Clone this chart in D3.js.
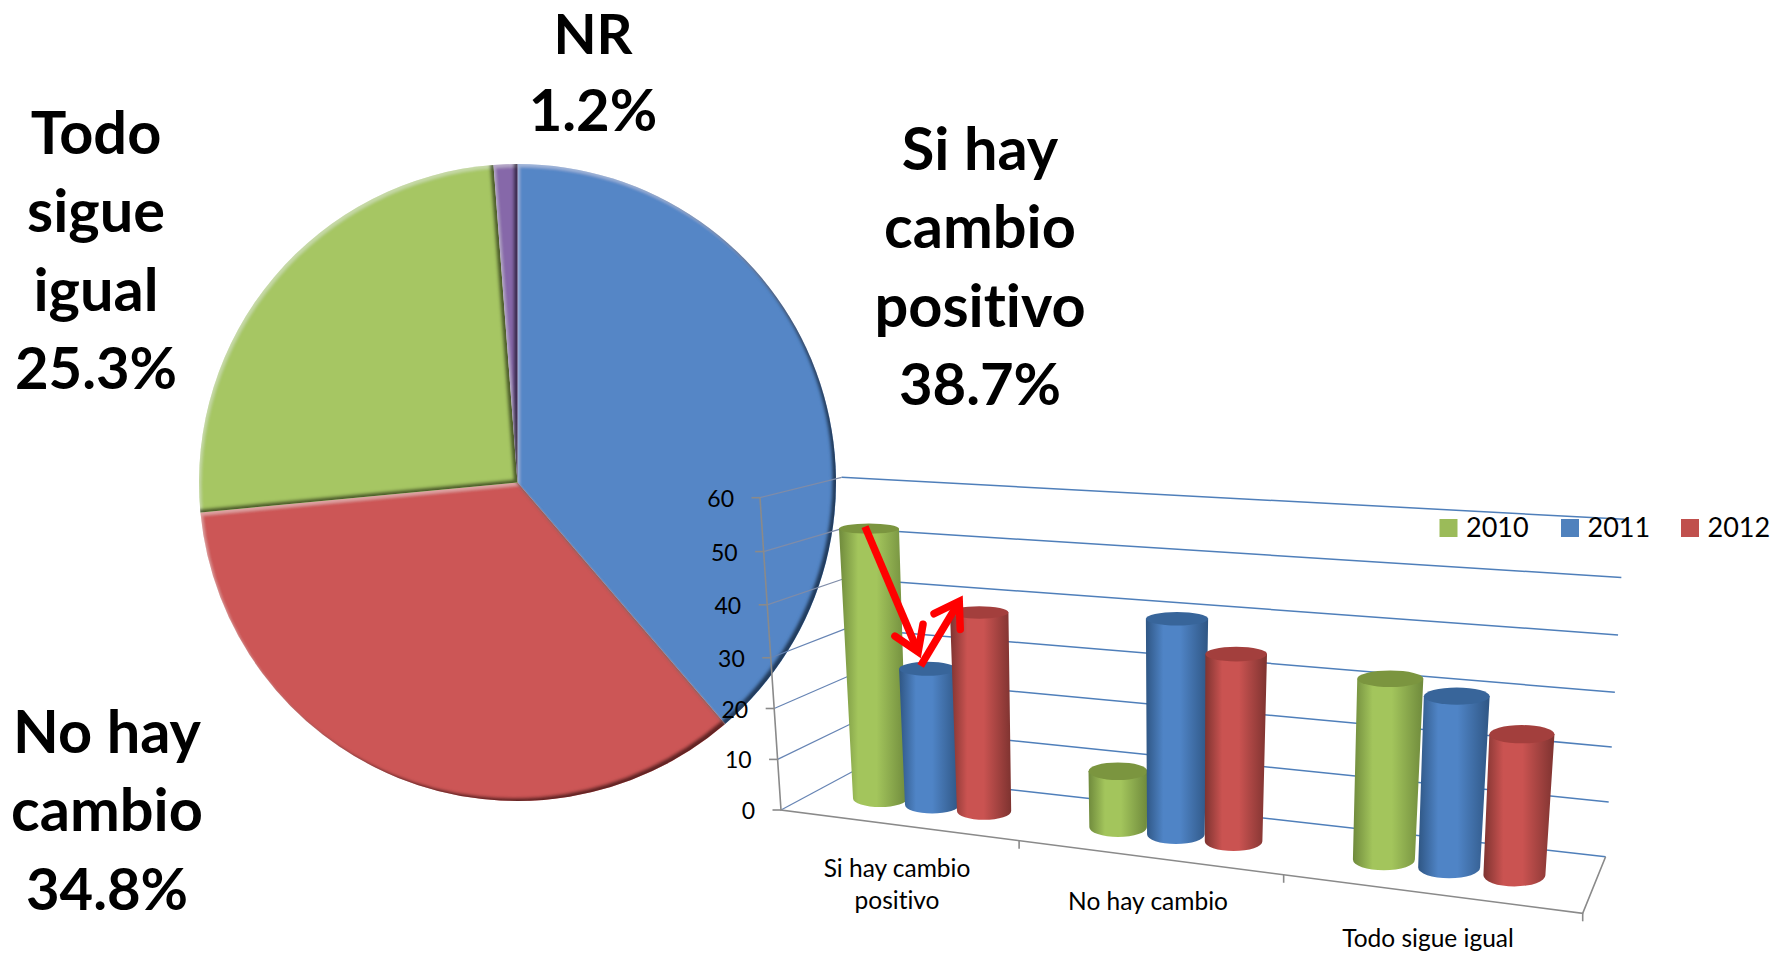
<!DOCTYPE html>
<html>
<head>
<meta charset="utf-8">
<script src="https://cdn.jsdelivr.net/npm/d3@7"></script>
<style>
  body { margin: 0; background: #fff; }
  svg { display: block; }
  text { font-family: Lato, "Open Sans", sans-serif; fill: #000; font-variant-ligatures: none; }
</style>
</head>
<body>
<svg id="chart" width="1777" height="953"></svg>
<script>
// pie
const pieNames = ['Si hay cambio positivo', 'No hay cambio', 'Todo sigue igual', 'NR']
const pieValues = [38.7, 34.8, 25.3, 1.2]
const pieColors = ['#5586c6', '#cc5756', '#a6c663', '#8668a9']

// cylinders
const categories = [['Si hay cambio', 'positivo'], ['No hay cambio'], ['Todo sigue igual']]
const years = ['2010', '2011', '2012']
const values2010 = [53, 10.8, 33]
const values2011 = [27, 40.5, 31]
const values2012 = [38.7, 35, 25.3]
const yTicks = [0, 10, 20, 30, 40, 50, 60]

const seriesColors = {
  '2010': { swatch: '#9bbb59', light: '#a3c55c', dark: '#6f8a3c', top: '#7b953f' },
  '2011': { swatch: '#4f81bd', light: '#4f84c6', dark: '#2f5684', top: '#38659a' },
  '2012': { swatch: '#c0504d', light: '#ca5351', dark: '#7e3330', top: '#a33f3d' }
}

const svg = d3.select('#chart')
const defs = svg.append('defs')

// ---- pie with a bevelled edge ----
const bevel = defs.append('filter').attr('id', 'bevel')
  .attr('filterUnits', 'userSpaceOnUse')
  .attr('x', -400).attr('y', -400).attr('width', 800).attr('height', 800)
bevel.append('feGaussianBlur').attr('in', 'SourceAlpha').attr('stdDeviation', 1.5).attr('result', 'blur')
bevel.append('feOffset').attr('in', 'blur').attr('dx', -4.5).attr('dy', -3.5).attr('result', 'offDark')
bevel.append('feComposite').attr('in', 'SourceAlpha').attr('in2', 'offDark').attr('operator', 'out').attr('result', 'edgeDark')
bevel.append('feFlood').attr('flood-color', '#000').attr('flood-opacity', 0.8)
bevel.append('feComposite').attr('in2', 'edgeDark').attr('operator', 'in').attr('result', 'shade')
bevel.append('feOffset').attr('in', 'blur').attr('dx', 2).attr('dy', 3).attr('result', 'offLight')
bevel.append('feComposite').attr('in', 'SourceAlpha').attr('in2', 'offLight').attr('operator', 'out').attr('result', 'edgeLight')
bevel.append('feFlood').attr('flood-color', '#fff').attr('flood-opacity', 0.3)
bevel.append('feComposite').attr('in2', 'edgeLight').attr('operator', 'in').attr('result', 'shine')
const bevelMerge = bevel.append('feMerge')
bevelMerge.append('feMergeNode').attr('in', 'SourceGraphic')
bevelMerge.append('feMergeNode').attr('in', 'shine')
bevelMerge.append('feMergeNode').attr('in', 'shade')

const pie = d3.pie().sort(null)
const arc = d3.arc().innerRadius(0).outerRadius(318.5)
svg.append('g').attr('transform', 'translate(517.5,482.5)')
  .selectAll('path')
  .data(pie(pieValues))
  .enter()
  .append('path')
  .attr('d', arc)
  .attr('fill', (d, i) => pieColors[i])
  .attr('filter', 'url(#bevel)')

// big labels round the pie
const bigLabels = [
  { lines: ['NR', '1.2%'], sizes: [56, 58], x: 593, y: 54, step: 77 },
  { lines: ['Si hay', 'cambio', 'positivo', '38.7%'], x: 980, y: 170 },
  { lines: ['Todo', 'sigue', 'igual', '25.3%'], x: 96, y: 154 },
  { lines: ['No hay', 'cambio', '34.8%'], x: 107, y: 753 }
]
bigLabels.forEach(l => {
  l.lines.forEach((line, i) => {
    svg.append('text')
      .attr('x', l.x)
      .attr('y', l.y + i * (l.step || 78.4))
      .attr('text-anchor', 'middle')
      .style('font-size', (l.sizes ? l.sizes[i] : (line.endsWith('%') ? 58 : 59.5)) + 'px')
      .style('font-weight', 700)
      .text(line)
  })
})

// ---- 3d box: every point goes through the eight corners of the box ----
const corners = {
  frontBottomLeft: [781, 810], frontTopLeft: [760, 497.7],
  backBottomLeft: [852.3, 771.7], backTopLeft: [841.7, 477.3],
  frontBottomRight: [1582.7, 913.3], frontTopRight: [1608, 555],
  backBottomRight: [1605.6, 856.7], backTopRight: [1624.6, 519.3]
}
// tick spacing is not quite even in the picture, perspective again
const yScale = d3.scaleLinear().domain(yTicks).range([0, 0.162, 0.325, 0.4875, 0.657, 0.8275, 1])
const xScale = d3.scaleLinear().domain([0, 1, 2, 3]).range([0, 0.297, 0.627, 1])
const bandScale = d3.scalePoint().domain(years).range([0.275, 0.725])

function project(x, depth, v) {
  const h = yScale(v)
  const mix = (a, b, t) => [a[0] + (b[0] - a[0]) * t, a[1] + (b[1] - a[1]) * t]
  const c = corners
  const front = mix(mix(c.frontBottomLeft, c.frontBottomRight, x), mix(c.frontTopLeft, c.frontTopRight, x), h)
  const back = mix(mix(c.backBottomLeft, c.backBottomRight, x), mix(c.backTopLeft, c.backTopRight, x), h)
  return mix(front, back, depth)
}

const box = svg.append('g')
const lineGen = d3.line()
const gridBlue = '#4f7fba'
const axisGrey = '#8a8a8a'

// back wall and left wall grid
box.selectAll('.grid-back')
  .data(yTicks)
  .enter()
  .append('path')
  .attr('class', 'grid-back')
  .attr('d', v => lineGen([project(0, 1, v), project(1, 1, v)]))
  .attr('stroke', gridBlue)
  .attr('stroke-width', 1.5)
  .attr('fill', 'none')
box.selectAll('.grid-side')
  .data(yTicks)
  .enter()
  .append('path')
  .attr('class', 'grid-side')
  .attr('d', v => lineGen([project(0, 0, v), project(0, 1, v)]))
  .attr('stroke', v => v > 30 ? '#7f8ca8' : '#6684b4')
  .attr('stroke-width', 1.2)
  .attr('fill', 'none')

// axes
box.append('path')
  .attr('d', lineGen([project(0, 0, 60), project(0, 0, 0), project(1, 0, 0), project(1, 1, 0)]))
  .attr('stroke', axisGrey).attr('stroke-width', 1.6).attr('fill', 'none')
box.selectAll('.y-tick')
  .data(yTicks)
  .enter()
  .append('path')
  .attr('class', 'y-tick')
  .attr('d', v => {
    const p = project(0, 0, v)
    return lineGen([[p[0] - 8.5, p[1]], p])
  })
  .attr('stroke', axisGrey).attr('stroke-width', 1.6)
box.selectAll('.x-tick')
  .data([1, 2, 3])
  .enter()
  .append('path')
  .attr('class', 'x-tick')
  .attr('d', c => {
    const p = project(xScale(c), 0, 0)
    return lineGen([p, [p[0], p[1] + 8]])
  })
  .attr('stroke', axisGrey).attr('stroke-width', 1.6)
box.selectAll('.y-label')
  .data(yTicks)
  .enter()
  .append('text')
  .attr('class', 'y-label')
  .attr('x', v => project(0, 0, v)[0] - 26)
  .attr('y', v => project(0, 0, v)[1] + 9)
  .attr('text-anchor', 'end')
  .style('font-size', '23px')
  .text(v => v)

// category labels
const catLabelPos = [{ x: 897, y: 877 }, { x: 1148, y: 910 }, { x: 1428, y: 947 }]
categories.forEach((lines, c) => {
  lines.forEach((line, i) => {
    box.append('text')
      .attr('x', catLabelPos[c].x)
      .attr('y', catLabelPos[c].y + i * 32)
      .attr('text-anchor', 'middle')
      .style('font-size', '24.5px')
      .text(line)
  })
})

// cylinders
years.forEach(y => {
  const g = defs.append('linearGradient').attr('id', 'cyl' + y)
  g.append('stop').attr('offset', 0).attr('stop-color', seriesColors[y].dark)
  g.append('stop').attr('offset', 0.28).attr('stop-color', seriesColors[y].light)
  g.append('stop').attr('offset', 0.55).attr('stop-color', seriesColors[y].light)
  g.append('stop').attr('offset', 1).attr('stop-color', seriesColors[y].dark)
})

const cylinders = []
const seriesValues = { '2010': values2010, '2011': values2011, '2012': values2012 }
years.forEach(year => {
  seriesValues[year].forEach((v, c) => {
    cylinders.push({ year, c, v })
  })
})

const ryRatio = d3.scaleLinear().domain([530, 770]).range([0.17, 0.3])

function cylinderShape(d) {
  const x = xScale(d.c + bandScale(d.year))
  const base = project(x, 0.5, 0)
  const top = project(x, 0.5, d.v)
  const catWidth = (xScale(d.c + 1) - xScale(d.c)) * 777
  const r = 12 + catWidth * 0.0655
  const rTop = r * (1 + d.v * 0.002)
  return { base, top, r, rTop, ryBase: r * ryRatio(base[1]), ryTop: rTop * ryRatio(top[1]) }
}

const cyl = svg.append('g')
  .selectAll('g')
  .data(cylinders)
  .enter()
  .append('g')
cyl.append('path')
  .attr('fill', d => `url(#cyl${d.year})`)
  .attr('d', d => {
    const s = cylinderShape(d)
    return `M${s.base[0] - s.r},${s.base[1]} L${s.top[0] - s.rTop},${s.top[1]} ` +
      `L${s.top[0] + s.rTop},${s.top[1]} L${s.base[0] + s.r},${s.base[1]} ` +
      `A${s.r},${s.ryBase} 0 0 1 ${s.base[0] - s.r},${s.base[1]} Z`
  })
cyl.append('ellipse')
  .attr('cx', d => cylinderShape(d).top[0])
  .attr('cy', d => cylinderShape(d).top[1])
  .attr('rx', d => cylinderShape(d).rTop)
  .attr('ry', d => cylinderShape(d).ryTop)
  .attr('fill', d => seriesColors[d.year].top)

// legend
const legendX = { '2010': 1439.5, '2011': 1561, '2012': 1681 }
const legend = svg.append('g').selectAll('g')
  .data(years)
  .enter()
  .append('g')
legend.append('rect')
  .attr('x', d => legendX[d])
  .attr('y', 519)
  .attr('width', 18)
  .attr('height', 18)
  .attr('fill', d => seriesColors[d].swatch)
legend.append('text')
  .attr('x', d => legendX[d] + 26.5)
  .attr('y', 537)
  .style('font-size', '27px')
  .text(d => d)

// red arrows between the first three cylinders
function drawArrow(from, to) {
  const angle = Math.atan2(from[1] - to[1], from[0] - to[0])
  const wing = a => [to[0] + 28 * Math.cos(angle + a), to[1] + 28 * Math.sin(angle + a)]
  const spread = 33 * Math.PI / 180
  const inset = [to[0] + 6 * Math.cos(angle), to[1] + 6 * Math.sin(angle)]
  svg.append('path')
    .attr('d', lineGen([from, inset]))
    .attr('stroke', '#ff0000').attr('stroke-width', 7.5).attr('fill', 'none')
  svg.append('path')
    .attr('d', lineGen([wing(spread), to, wing(-spread)]))
    .attr('stroke', '#ff0000').attr('stroke-width', 7.5).attr('fill', 'none')
    .attr('stroke-linecap', 'round')
    .attr('stroke-linejoin', 'miter')
}
const topOf = (year, c) => cylinderShape({ year, c, v: seriesValues[year][c] }).top
const t2010 = topOf('2010', 0)
const t2011 = topOf('2011', 0)
const t2012 = topOf('2012', 0)
drawArrow([t2010[0] - 4, t2010[1] - 2], [t2011[0] - 9.5, t2011[1] - 17])
drawArrow([t2011[0] - 7, t2011[1] - 3], [t2012[0] - 20, t2012[1] - 11])
</script>
</body>
</html>
